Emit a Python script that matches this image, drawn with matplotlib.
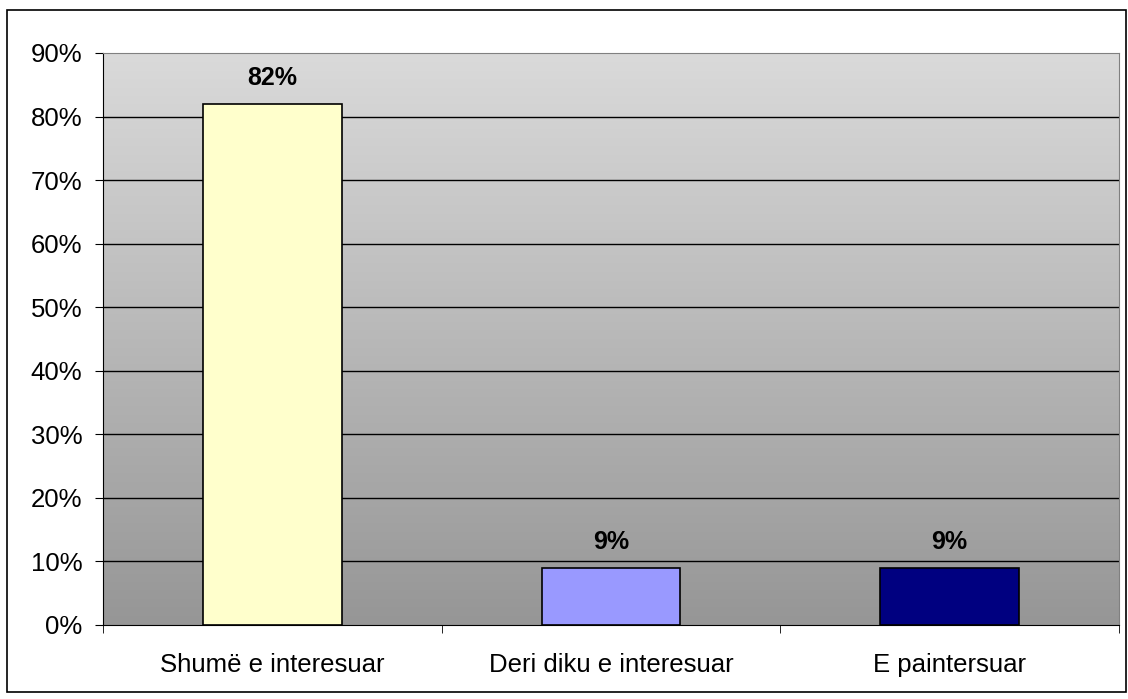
import numpy as np
import matplotlib.pyplot as plt
from matplotlib.colors import LinearSegmentedColormap
from matplotlib.patches import Rectangle

categories = ["Shumë e interesuar", "Deri diku e interesuar", "E paintersuar"]
values = [82, 9, 9]
labels = ["82%", "9%", "9%"]
bar_colors = ["#ffffcc", "#9999ff", "#000080"]
yticks = list(range(0, 91, 10))

plt.rcParams['font.family'] = ['Liberation Sans', 'DejaVu Sans']

fig = plt.figure(figsize=(11.28, 6.99), dpi=100)
W, H = 1128, 699
ax = fig.add_axes([103 / W, 1 - 625 / H, (1119 - 103) / W, (625 - 53) / H])

# fundi me gradient
cmap = LinearSegmentedColormap.from_list("bg", ["#969696", "#dadada"])
grad = np.linspace(0, 1, 256).reshape(-1, 1)
ax.imshow(grad, cmap=cmap, aspect="auto", origin="lower",
          extent=[-0.5, 2.5, 0, 90], zorder=0)

x = np.arange(len(categories))
for yv in yticks[1:-1]:
    ax.axhline(yv, color="black", lw=1, zorder=1)

ax.bar(x, values, width=0.41, color=bar_colors, edgecolor="black", lw=1.2, zorder=2)
for xi, v, lab in zip(x, values, labels):
    ax.text(xi, v + 2.2, lab, ha="center", va="bottom", fontsize=18, fontweight="bold")

ax.set_xlim(-0.5, 2.5)
ax.set_ylim(0, 90)
ax.set_yticks(yticks)
ax.set_yticklabels([f"{t}%" for t in yticks], fontsize=18.5)
ax.set_xticks(x)
ax.set_xticklabels(categories, fontsize=18.5)
ax.tick_params(axis="x", length=0, pad=20)
ax.set_xticks([-0.5, 0.5, 1.5, 2.5], minor=True)
ax.tick_params(axis="x", which="minor", length=6, direction="out")
ax.tick_params(axis="y", length=6, direction="out", pad=9)

for s in ["top", "right"]:
    ax.spines[s].set_color("#808080")
ax.spines["left"].set_color("black")
ax.spines["bottom"].set_color("black")

fig.patches.append(Rectangle((7 / W, 1 - 692 / H), (1126 - 7) / W, (692 - 10) / H,
                             transform=fig.transFigure, fill=False,
                             edgecolor="black", lw=1.2))

fig.savefig("out.png", dpi=100)
